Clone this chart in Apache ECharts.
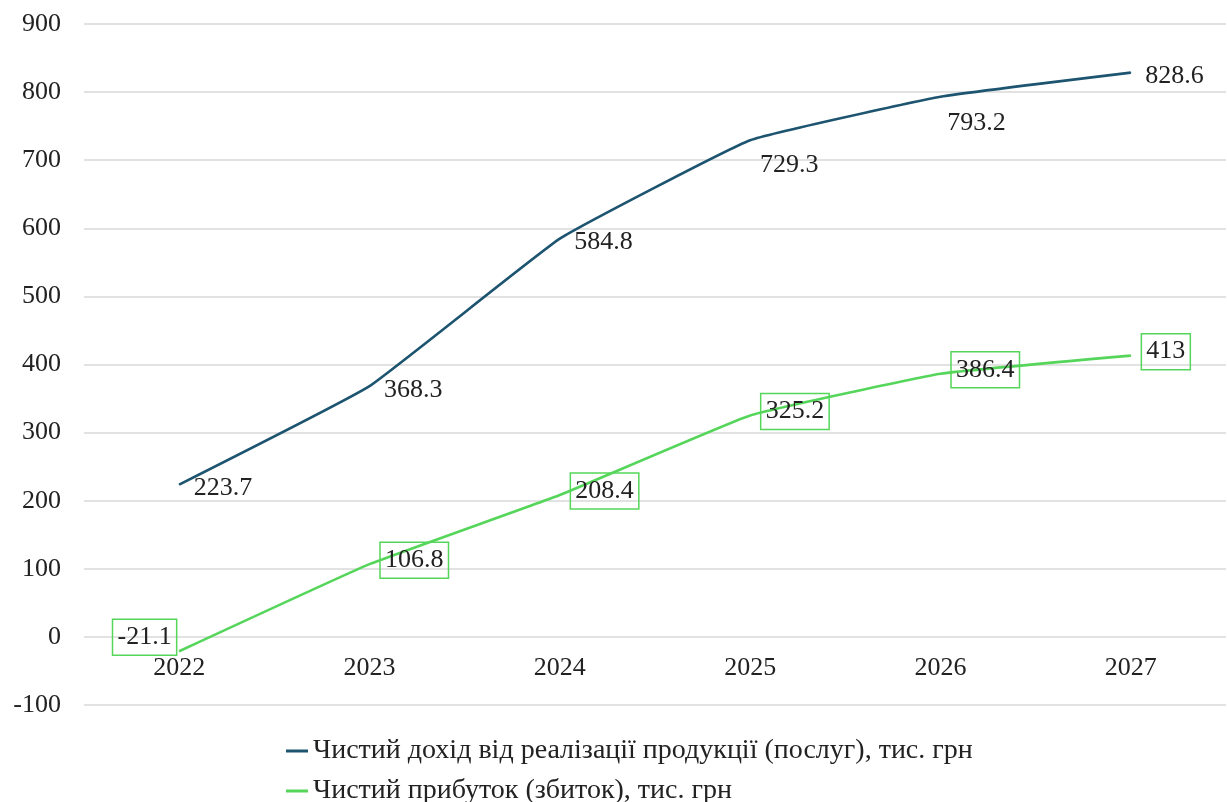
<!DOCTYPE html>
<html>
<head>
<meta charset="utf-8">
<script src="https://cdn.jsdelivr.net/npm/echarts@6/dist/echarts.min.js"></script>
<style>
  html, body { margin: 0; padding: 0; background: #fff; }
  #chart { width: 1227px; height: 802px; }
</style>
</head>
<body>
<div id="chart"></div>
<script>
const years = ['2022', '2023', '2024', '2025', '2026', '2027']
const revenue = [223.7, 368.3, 584.8, 729.3, 793.2, 828.6]
const profit = [-21.1, 106.8, 208.4, 325.2, 386.4, 413]
const revenueName = 'Чистий дохід від реалізації продукції (послуг), тис. грн'
const profitName = 'Чистий прибуток (збиток), тис. грн'

const font = '"Liberation Serif", "Times New Roman", serif'
const darkColor = '#1d5470'
const greenColor = '#55d65a'

const chart = echarts.init(document.getElementById('chart'))

// a couple of labels sit below the line instead of to the right
const belowOffsets = { 3: [39, -3], 4: [36, -1] }
const revenueData = revenue.map((v, i) => {
  if (belowOffsets[i]) {
    return { value: v, label: { position: 'bottom', offset: belowOffsets[i] } }
  }
  return v
})

const profitData = profit.map((v, i) => {
  if (i === 0) {
    return { value: v, label: { position: 'left', distance: 2, offset: [0, -14] } }
  }
  return v
})

const legendText = { fontFamily: font, fontSize: 28, color: '#222' }

const option = {
  animation: false,
  textStyle: { fontFamily: font },
  grid: { left: 84, right: 1, top: 24, bottom: 97 },
  legend: [
    {
      left: 281,
      top: 732,
      itemWidth: 22,
      itemHeight: 3,
      icon: 'rect',
      textStyle: legendText,
      data: [{ name: revenueName, itemStyle: { color: darkColor } }]
    },
    {
      left: 281,
      top: 772,
      itemWidth: 22,
      itemHeight: 3,
      icon: 'rect',
      textStyle: legendText,
      data: [{ name: profitName, itemStyle: { color: greenColor } }]
    }
  ],
  xAxis: {
    type: 'category',
    data: years,
    boundaryGap: true,
    offset: -68,
    axisLine: { show: false },
    axisTick: { show: false },
    axisLabel: { fontFamily: font, fontSize: 26, color: '#222', margin: 18 }
  },
  yAxis: {
    type: 'value',
    min: -100,
    max: 900,
    interval: 100,
    axisLine: { show: false },
    axisTick: { show: false },
    axisLabel: { fontFamily: font, fontSize: 26, color: '#222', margin: 23 },
    splitLine: { lineStyle: { color: '#d9d9d9', width: 1.5 } }
  },
  series: [
    {
      name: revenueName,
      type: 'line',
      data: revenueData,
      smooth: 0.1,
      symbol: 'circle',
      symbolSize: 1,
      showSymbol: true,
      lineStyle: { color: darkColor, width: 2.6 },
      itemStyle: { color: darkColor },
      label: {
        show: true,
        position: 'right',
        distance: 14,
        offset: [0, 4],
        fontFamily: font,
        fontSize: 26,
        color: '#222'
      }
    },
    {
      name: profitName,
      type: 'line',
      data: profitData,
      smooth: 0.1,
      symbol: 'circle',
      symbolSize: 1,
      showSymbol: true,
      lineStyle: { color: greenColor, width: 2.6 },
      itemStyle: { color: greenColor },
      label: {
        show: true,
        position: 'right',
        distance: 10,
        offset: [0, -4],
        fontFamily: font,
        fontSize: 26,
        color: '#222',
        borderColor: greenColor,
        borderWidth: 1.5,
        padding: [6, 5, 4, 5]
      }
    }
  ]
}

chart.setOption(option)
</script>
</body>
</html>
